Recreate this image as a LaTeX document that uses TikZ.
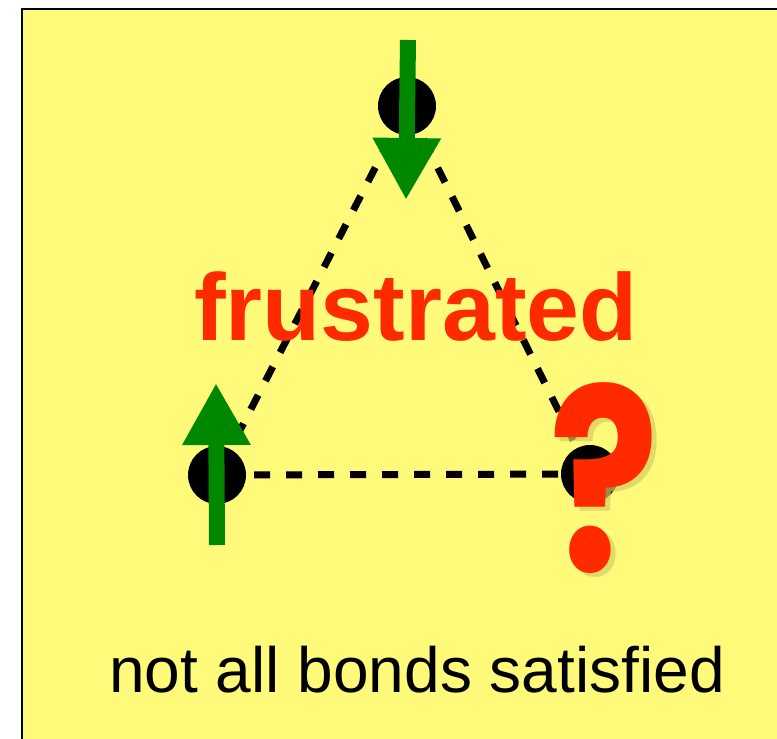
\documentclass[tikz,border=0pt]{standalone}
\usepackage{fontspec}
\setmainfont{Liberation Sans}
\newfontfamily\qfont{Poppins}
\usepackage{xcolor}
\usetikzlibrary{arrows.meta}
\definecolor{myyellow}{RGB}{255,250,122}
\definecolor{mygreen}{RGB}{0,135,0}
\definecolor{myred}{RGB}{255,42,0}
\definecolor{myshadow}{RGB}{215,205,95}
\tikzstyle{site} = [circle, fill=black, minimum size=58pt, inner sep=0pt]
\tikzstyle{bond} = [line width=7pt, dash pattern=on 16pt off 16pt, dash phase=-8pt]
\tikzstyle{spin} = [mygreen, line width=16pt, -{Triangle[width=64pt,length=62pt]}]
\tikzstyle{qmark} = [inner sep=0pt, font=\qfont\fontsize{255}{255}\bfseries\selectfont]

\begin{document}
\begin{tikzpicture}[x=1pt, y=-1pt]
    \useasboundingbox (0,0) rectangle (777,739);
    \clip (0,0) rectangle (777,739);
    \draw[fill=myyellow, line width=2.5pt] (22,9) rectangle (800,760);
    \node[site] (top) at (407,106) {};
    \node[site] (left) at (217,475) {};
    \node[site] (right) at (590,474) {};
    \draw[bond] (top) -- (left);
    \draw[bond] (top) -- (right);
    \draw[bond] (left) -- (right);
    \coordinate (topstart) at (408,40);
    \coordinate (leftstart) at (217,545);
    \draw[spin] (topstart) -- (406,200);
    \draw[spin] (leftstart) -- (216,383);
    \node[anchor=base, text=myred, font=\fontsize{95}{95}\bfseries\selectfont] (label) at (416,340) {frustrated};
    \node[qmark, text=myshadow, opacity=0.7] (qshadow) at (609,482) {\scalebox{0.8}[1]{?}};
    \node[qmark, text=myred] (qm) at (604,478) {\scalebox{0.8}[1]{?}};
    \node[anchor=base, font=\fontsize{64}{64}\selectfont] (caption) at (417,692) {not all bonds satisfied};
\end{tikzpicture}
\end{document}
